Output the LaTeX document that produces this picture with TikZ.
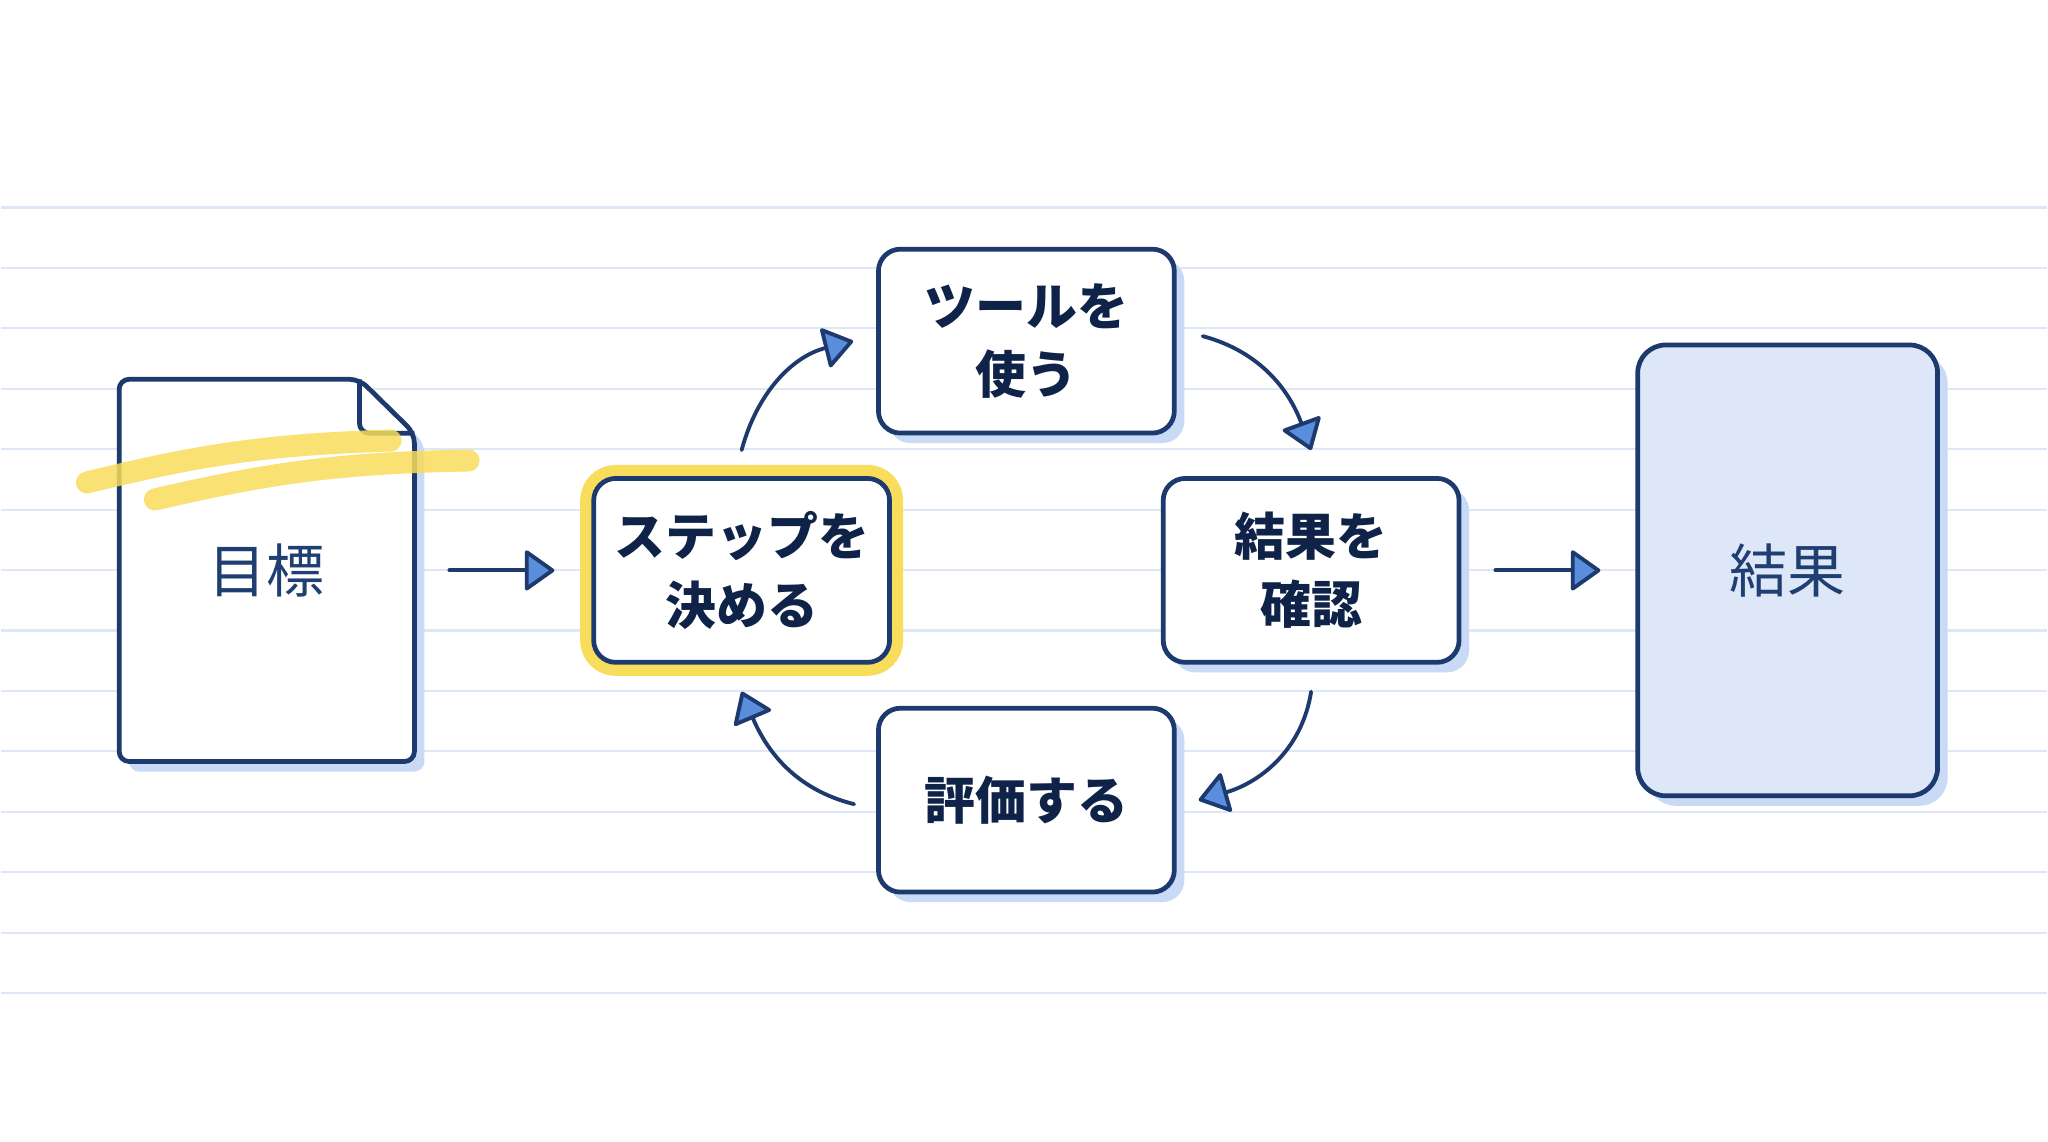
\documentclass[tikz,border=0pt]{standalone}
\usepackage{fontspec}
\newfontfamily\jpfont{Noto Sans CJK JP}
\usetikzlibrary{positioning,arrows.meta,shadows,calc}

\definecolor{navy}{HTML}{1D3A6E}
\definecolor{inknavy}{HTML}{0F2349}
\definecolor{docnavy}{HTML}{1F3E72}
\definecolor{tipblue}{HTML}{5A8EDC}
\definecolor{shadeblue}{HTML}{C9DAF6}
\definecolor{ruleblue}{HTML}{DDE7F7}
\definecolor{markyellow}{HTML}{F8DC5C}
\definecolor{resultfill}{HTML}{DDE7F7}

\pgfdeclarelayer{back}
\pgfdeclarelayer{bg}
\pgfsetlayers{back,bg,main}

\begin{document}
\begin{tikzpicture}[x=0.01cm,y=0.01cm,
    box/.style={rectangle,draw=navy,line width=1.35pt,rounded corners=.22cm,fill=white,minimum width=2.96cm,minimum height=1.84cm,align=center,text=inknavy,font=\jpfont\bfseries\fontsize{14.5pt}{19.5pt}\selectfont},
    resultbox/.style={rectangle,draw=navy,line width=1.35pt,rounded corners=.28cm,fill=resultfill,minimum width=3cm,minimum height=4.51cm,text=docnavy,font=\jpfont\fontsize{16.5pt}{20pt}\selectfont},
    doc/.style={rectangle,minimum width=2.94cm,minimum height=3.81cm,inner sep=0pt,text=docnavy,font=\jpfont\fontsize{16.5pt}{20pt}\selectfont},
    lifted/.style={drop shadow={shadow xshift=.1cm,shadow yshift=-.1cm,fill=shadeblue,opacity=1}},
    arrow/.style={draw=navy,line width=1.1pt,line cap=round,-{Triangle[length=.31cm,width=.43cm,fill=tipblue,round]}},
    highlight/.style={markyellow,opacity=.85,line width=.22cm,line cap=round}
    ]

    \begin{pgfonlayer}{back}
      \fill[white] (0,0) rectangle (2048,1143);
      \foreach \k in {0,...,13}
        \draw[ruleblue,line width=.6pt] (0,935.3-60.5*\k) -- (2048,935.3-60.5*\k);
    \end{pgfonlayer}
    \useasboundingbox (0,0) rectangle (2048,1143);

    \node[doc] (goal) at (266,572) {目標};
    \node[box,preaction={draw=markyellow,line width=.27cm},right=1.77cm of goal] (step) {ステップを\\決める};
    \node[box,lifted,right=2.69cm of step] (confirm) {結果を\\確認};
    \node[box,lifted] (tool) at ($(step)!.5!(confirm)+(0,229.5)$) {ツールを\\使う};
    \node[box,lifted] (eval) at ($(step)!.5!(confirm)-(0,230)$) {評価する};
    \node[resultbox,lifted,right=1.74cm of confirm] (result) {結果};

    \begin{pgfonlayer}{bg}
      \draw[navy,line width=1.35pt,fill=white,rounded corners=.1cm,lifted] (goal.north west) -- ([xshift=-.55cm]goal.north east) -- ([yshift=-.54cm]goal.north east) -- (goal.south east) -- (goal.south west) -- cycle;
      \draw[navy,line width=1.35pt,rounded corners=.1cm] ([xshift=-.55cm]goal.north east) -- ([xshift=-.55cm,yshift=-.54cm]goal.north east) -- ([yshift=-.54cm]goal.north east);
    \end{pgfonlayer}

    \draw[highlight] (86,660) to[bend left=6] (390,702);
    \draw[highlight] (154,643) to[bend left=6] (468,682);

    \draw[arrow,shorten <=.35cm,shorten >=.37cm] (goal) -- (step);
    \draw[arrow,shorten <=.34cm,shorten >=.35cm] (confirm) -- (result);

    \draw[arrow] ([yshift=.26cm]step.north) to[out=75,in=194] ([xshift=-.23cm]tool.west);
    \draw[arrow] ([xshift=.26cm,yshift=.05cm]tool.east) to[out=-15,in=110] ([yshift=.26cm]confirm.north);
    \draw[arrow] ([yshift=-.27cm]confirm.south) to[out=-99,in=16] ([xshift=.22cm]eval.east);
    \draw[arrow] ([xshift=-.22cm,yshift=-.04cm]eval.west) to[out=166,in=-67] ([yshift=-.27cm]step.south);

  \end{tikzpicture}
\end{document}
